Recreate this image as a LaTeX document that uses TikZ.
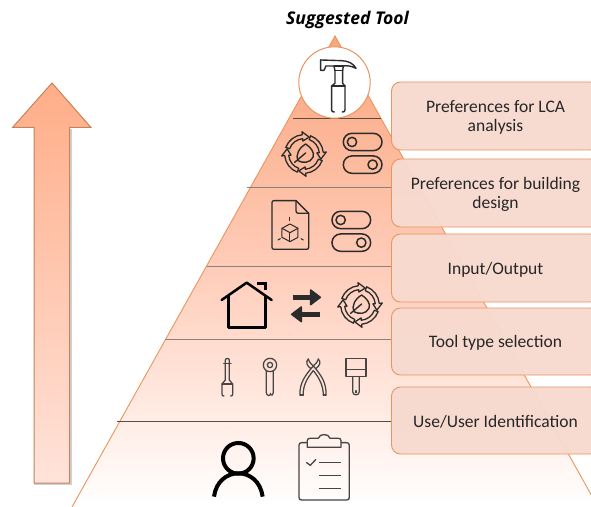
\documentclass[tikz,border=0pt]{standalone}
\usepackage{fontspec}
\setmainfont{Carlito}
\newfontfamily\titlefont{Open Sans}
\usetikzlibrary{calc}
\definecolor{icon}{HTML}{2B2B2B}
\definecolor{tool}{HTML}{454545}
\definecolor{edge}{HTML}{E8955F}
\definecolor{boxfill}{HTML}{F7DACF}
\definecolor{rule}{HTML}{5A4A42}
\definecolor{arrowedge}{HTML}{C6835A}
\definecolor{arrowtop}{HTML}{FFAD88}
\definecolor{arrowbottom}{HTML}{FFE3DA}
\definecolor{pyrtop}{HTML}{FAA67E}
\definecolor{pyrmid}{HTML}{FFCDBA}
\tikzset{
  x=1bp,y=-1bp,
  zoomA/.style={shift={(200,0)},x=.3333bp,y=-.3333bp},
  zoomB/.style={shift={(180,260)},x=.3333bp,y=-.3333bp},
  tierline/.style={draw=rule,line width=.7bp},
  labelbox/.style={draw=edge,line width=.9bp,fill=boxfill,fill opacity=.96,
    rounded corners=9bp,minimum width=208bp,inner sep=0pt},
  labeltext/.style={font=\fontsize{17.6}{19.6}\selectfont,text=black!85,align=center,inner sep=0pt,yshift=-1.5bp},
  ic/.style={draw=icon,line width=1.3bp,line join=round,line cap=round},
  tl/.style={draw=tool,line width=1.25bp,line join=round,line cap=round},
  pics/cycle/.style={code={
    \foreach \r in {0,90,180,270}{
      \begin{scope}[rotate=\r]
      \draw[ic] (200:46) arc[start angle=200,end angle=265,radius=46] -- (265:39)
        -- (287:53) -- (265:67) -- (265:58) arc[start angle=265,end angle=200,radius=58] -- cycle;
      \end{scope}
    }
    \draw[ic,line width=1.4bp] (5,-30) .. controls (20,-20) and (33,-5) .. (27,10)
      .. controls (18,28) and (-4,28) .. (-18,20) .. controls (-26,5) and (-16,-18) .. (5,-30) -- cycle;
    \draw[ic,line width=1.4bp] (-28,25) -- (5,-3);
  }},
  pics/switches/.style={code={
    \draw[ic,line width=1.5bp,rounded corners=8.6bp] (0,0) rectangle (116,52);
    \draw[ic,line width=1.5bp] (26,26) circle[radius=14];
    \draw[ic,line width=1.5bp,rounded corners=8.6bp] (0,68) rectangle (116,120);
    \draw[ic,line width=1.5bp] (88,94) circle[radius=14];
  }},
}
\begin{document}
\begin{tikzpicture}
\useasboundingbox (0,0) rectangle (591,507);
\path[fill=white] (0,0) rectangle (591,507);

% side arrow
\fill[black!18] (71.5,129) -- (71.5,484.5) -- (34,484.5) -- (34,129) -- cycle;
\path[draw=arrowedge,line width=1bp,line join=miter,top color=arrowtop,bottom color=arrowbottom]
  (52,83) -- (91,127.5) -- (69.5,127.5) -- (69.5,483) -- (34,483) -- (34,127.5) -- (12.5,127.5) -- cycle;

% pyramid
\path[top color=pyrtop,bottom color=white,middle color=pyrmid]
  (335,36) -- (598,507) -- (72,507) -- cycle;
\draw[draw=edge,line width=.9bp] (72,507) -- (335,36) -- (598,507);

% tier lines
\draw[tierline] (293,118) -- (381,118);
\draw[tierline,draw=rule!70] (246.5,187) -- (392,187);
\draw[tierline,draw=rule!70] (207,266) -- (392,266);
\draw[tierline,draw=rule!70] (165,339) -- (392,339);
\draw[tierline] (117,421) -- (392,421);

% label boxes
\node[labelbox,minimum height=68bp] (b1) at (495.5,116) {};
\node[labelbox,minimum height=68bp] (b2) at (495.5,193) {};
\node[labelbox,minimum height=68bp] (b3) at (495.5,268) {};
\node[labelbox,minimum height=67bp] (b4) at (495.5,341.5) {};
\node[labelbox,minimum height=67bp] (b5) at (495.5,420.5) {};
\node[labeltext] (t1) at (b1) {Preferences for LCA\\analysis};
\node[labeltext] (t2) at (b2) {Preferences for building\\design};
\node[labeltext] (t3) at (b3) {Input/Output};
\node[labeltext] (t4) at (b4) {Tool type selection};
\node[labeltext] (t5) at (b5) {Use/User Identification};

% top circle and title
\node[circle,draw=edge,line width=1bp,fill=white,minimum size=71.4bp,inner sep=0pt] (top) at (334.5,82.5) {};
\node[font=\titlefont\bfseries\itshape\fontsize{17.6}{20}\selectfont,text=black,inner sep=0pt] (title) at (347.5,20) {Suggested Tool};

% zoom-1 icons
\begin{scope}[zoomA]
  % hammer
  \draw[ic,line width=1.4bp] (362,180) -- (362,211) -- (372,211) -- (378,198) -- (402,198) -- (405,212)
    -- (405,250) -- (395,258) -- (395,330) .. controls (395,335) and (398,336) .. (403,336);
  \draw[ic,line width=1.4bp] (362,180) -- (425,182) .. controls (445,183) and (460,190) .. (468,205)
    .. controls (455,198) and (440,196) .. (430,198) -- (428,212) -- (428,250) -- (435,258) -- (435,330)
    .. controls (435,335) and (432,336) .. (427,336);
  \draw[ic,line width=1.4bp] (402,198) -- (430,198);
  \draw[ic,line width=1.4bp] (405,212) -- (428,212);
  \draw[ic,line width=1.4bp] (395,258) -- (435,258);
  % recycling + switches
  \pic at (312,462) {cycle};
  \pic at (430,400) {switches};
  % document
  \draw[ic] (288,602) -- (222,602) .. controls (218,602) and (216,604) .. (216,608) -- (216,742)
    .. controls (216,746) and (218,748) .. (222,748) -- (320,748) .. controls (324,748) and (326,746) .. (326,742) -- (326,640) -- cycle;
  \draw[ic] (288,602) -- (288,632) .. controls (288,638) and (290,640) .. (296,640) -- (326,640);
  \draw[ic,line width=1bp] (270,672) -- (294,685) -- (294,712) -- (270,725) -- (246,712) -- (246,685) -- cycle;
  \draw[ic,line width=1bp] (246,685) -- (270,698) -- (294,685);
  \draw[ic,line width=1bp] (270,698) -- (270,725);
  \draw[ic,line width=1bp] (270,652) -- (270,662);
  \draw[ic,line width=1bp] (234,720) -- (241,716);
  \draw[ic,line width=1bp] (310,720) -- (303,716);
  \pic at (396,634) {switches};
\end{scope}

% zoom-2 icons
\begin{scope}[zoomB]
  % house
  \draw[black,line width=2.5bp,line cap=round,line join=round] (125,120) -- (200,68) -- (275,120);
  \draw[black,line width=2.5bp,line join=round] (145,105) -- (145,202) -- (256,202) -- (256,108);
  \draw[black,line width=2.5bp] (232,70) -- (257,70) -- (257,90);
  % exchange arrows
  \draw[icon,line width=4.4bp] (338,112) -- (395,112);
  \fill[icon,draw=icon,line width=1.5bp,line join=round] (392,90) -- (421,112) -- (392,134) -- cycle;
  \draw[icon,line width=4.4bp] (420,163) -- (362,163);
  \fill[icon,draw=icon,line width=1.5bp,line join=round] (364,141) -- (335,163) -- (364,185) -- cycle;
  \pic at (540,135) {cycle};
  % screwdriver
  \draw[tl] (136,360) -- (136,300) .. controls (136,294) and (148,294) .. (148,300) -- (148,360);
  \draw[tl] (131,310) -- (153,310);
  \draw[tl] (136,360) -- (126,372) -- (126,402) .. controls (126,407) and (128,408) .. (132,408);
  \draw[tl] (148,360) -- (158,372) -- (158,402) .. controls (158,407) and (156,408) .. (152,408);
  \draw[tl] (126,372) -- (158,372);
  % wrench
  \draw[tl] (270,315) circle[radius=20];
  \draw[tl] (270,315) circle[radius=8];
  \draw[tl] (259,332) -- (259,398) .. controls (259,408) and (272,410) .. (272,400);
  \draw[tl] (280,332) -- (280,398) .. controls (280,406) and (274,408) .. (272,404);
  % pliers
  \draw[tl] (385,297) .. controls (376,305) and (380,318) .. (393,326) .. controls (378,345) and (358,368) .. (360,405);
  \draw[tl] (415,297) .. controls (424,305) and (420,318) .. (407,326) .. controls (422,345) and (440,368) .. (438,405);
  \draw[tl] (385,297) .. controls (388,308) and (394,312) .. (400,318) .. controls (406,312) and (412,308) .. (415,297);
  \draw[tl] (393,326) -- (400,318) -- (407,326);
  \draw[tl] (400,332) .. controls (385,350) and (368,375) .. (370,405);
  \draw[tl] (400,332) .. controls (415,350) and (430,375) .. (430,405);
  \draw[tl] (360,405) -- (370,405);
  \draw[tl] (430,405) -- (438,405);
  % brush
  \draw[tl] (498,295) rectangle (558,350);
  \draw[tool,line width=1.6bp] (498,328) -- (558,328);
  \draw[tl] (518,350) -- (518,395) .. controls (518,408) and (538,408) .. (538,395) -- (538,350);
  \draw[tl] (528,392) -- (528,398);
  % person
  \draw[black,line width=4bp] (175,595) circle[radius=46];
  \draw[black,line width=4bp] (102,710) .. controls (108,665) and (140,640) .. (175,640) .. controls (210,640) and (242,665) .. (248,710);
  % clipboard
  \draw[tool,line width=1.3bp,line join=round] (382,548) -- (365,548) .. controls (360,548) and (357,551) .. (357,556)
    -- (357,712) .. controls (357,718) and (360,720) .. (365,720) -- (500,720) .. controls (505,720) and (508,718) .. (508,712)
    -- (508,556) .. controls (508,551) and (505,548) .. (500,548) -- (483,548);
  \draw[tool,line width=1.3bp,line join=round] (382,562) -- (382,542) .. controls (382,537) and (385,535) .. (390,535) -- (415,535)
    .. controls (418,520) and (447,520) .. (450,535) -- (475,535) .. controls (480,535) and (483,537) .. (483,542) -- (483,562) -- cycle;
  \draw[tool,line width=1.3bp,line cap=round,line join=round] (380,608) -- (391,616) -- (407,599);
  \draw[tool,line width=1.3bp] (418,608) -- (483,608);
  \draw[tool,line width=1.3bp] (418,647) -- (483,647);
  \draw[tool,line width=1.3bp] (418,685) -- (483,685);
\end{scope}
\end{tikzpicture}
\end{document}
